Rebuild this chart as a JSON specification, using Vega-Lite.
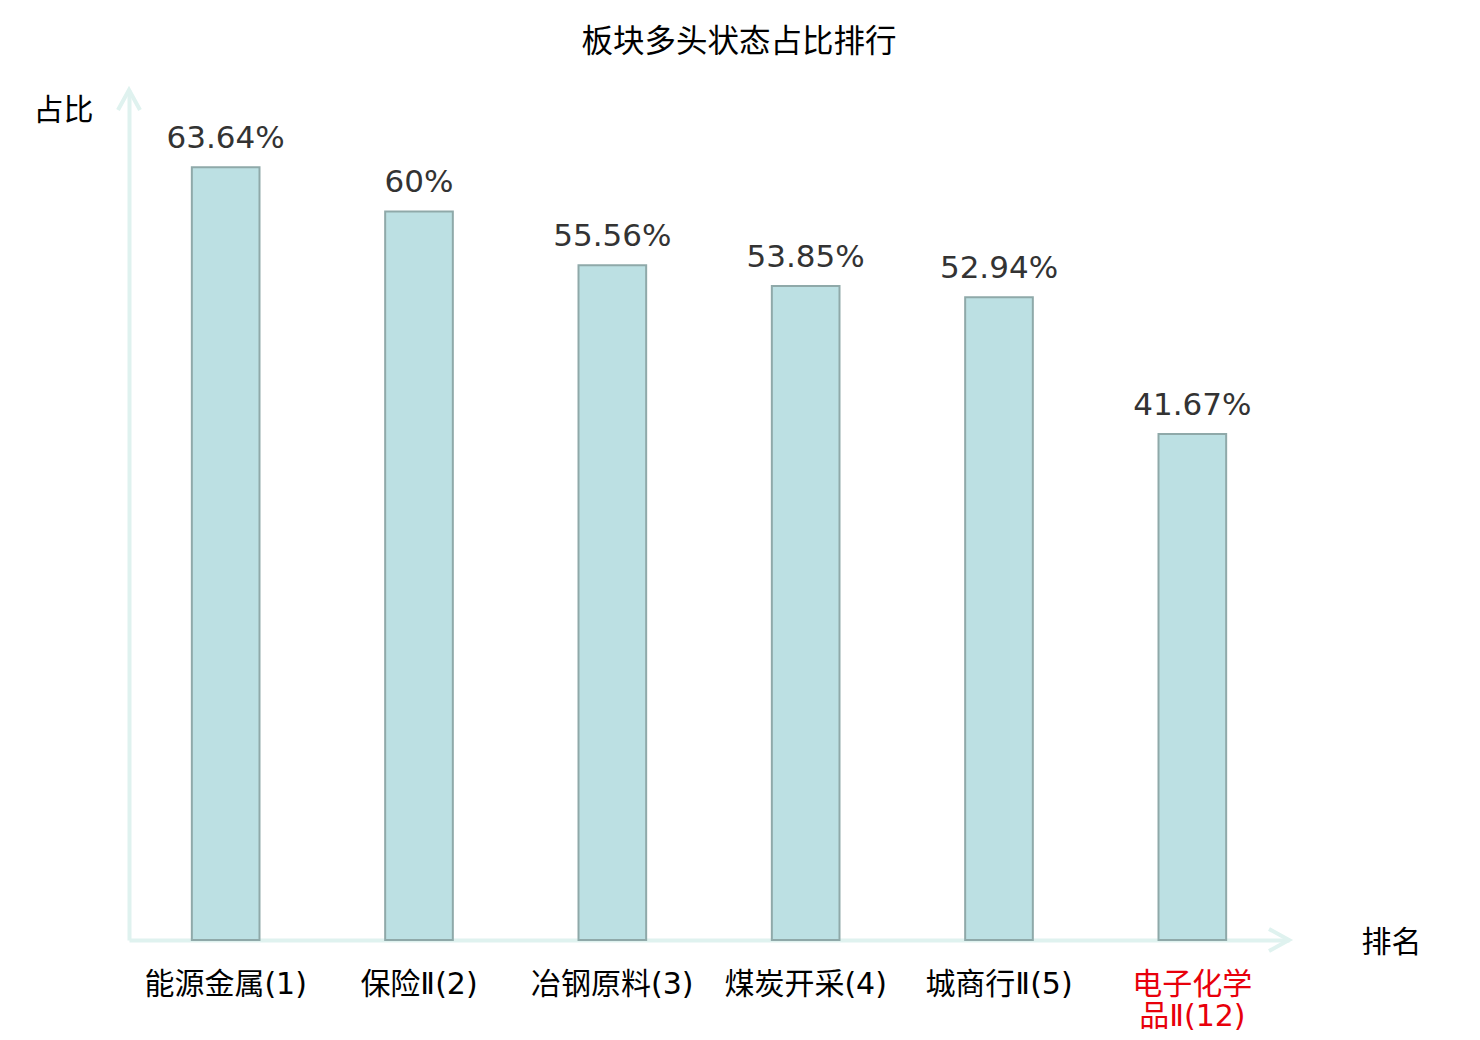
{
  "$schema": "https://vega.github.io/schema/vega-lite/v6.json",
  "autosize": "none",
  "width": 1160,
  "height": 850,
  "padding": {"left": 129, "top": 90, "right": 191, "bottom": 100},
  "background": "white",
  "title": {
    "text": "板块多头状态占比排行",
    "fontSize": 31.5,
    "fontWeight": "normal",
    "font": "Noto Sans CJK SC",
    "color": "#000000",
    "dx": 30,
    "offset": 24
  },
  "config": {
    "view": {"stroke": null},
    "font": "DejaVu Sans, Noto Sans CJK SC"
  },
  "layer": [
    {
      "data": {
        "values": [
          {"name": "能源金属(1)", "ratio": 63.64, "label": "63.64%"},
          {"name": "保险Ⅱ(2)", "ratio": 60, "label": "60%"},
          {"name": "冶钢原料(3)", "ratio": 55.56, "label": "55.56%"},
          {"name": "煤炭开采(4)", "ratio": 53.85, "label": "53.85%"},
          {"name": "城商行Ⅱ(5)", "ratio": 52.94, "label": "52.94%"},
          {"name": "电子化学品Ⅱ(12)", "ratio": 41.67, "label": "41.67%"}
        ]
      },
      "encoding": {
        "x": {
          "field": "name",
          "type": "nominal",
          "sort": null,
          "scale": {"paddingInner": 0.65, "paddingOuter": 0.325},
          "axis": {
            "title": "排名",
            "titleFont": "Noto Sans CJK SC",
            "titleFontSize": 30,
            "titleFontWeight": "normal",
            "titleColor": "#000000",
            "titleAngle": 0,
            "titleAlign": "center",
            "titleBaseline": "middle",
            "titleX": 1262,
            "titleY": 2,
            "labelAngle": 0,
            "labelFont": "DejaVu Sans, Noto Sans CJK SC",
            "labelFontSize": 30,
            "labelBaseline": "top",
            "labelPadding": 29,
            "labelLineHeight": 32,
            "labelOverlap": false,
            "labelExpr": "datum.value == '电子化学品Ⅱ(12)' ? ['电子化学', '品Ⅱ(12)'] : datum.value",
            "labelColor": {
              "condition": {"test": "datum.value == '电子化学品Ⅱ(12)'", "value": "#e8000b"},
              "value": "#000000"
            },
            "ticks": false,
            "domainColor": "#dff2ef",
            "domainWidth": 4
          }
        },
        "y": {
          "field": "ratio",
          "type": "quantitative",
          "scale": {"domain": [0, 70], "nice": false},
          "axis": {
            "title": "占比",
            "titleFont": "Noto Sans CJK SC",
            "titleFontSize": 30,
            "titleFontWeight": "normal",
            "titleColor": "#000000",
            "titleAngle": 0,
            "titleAlign": "center",
            "titleBaseline": "middle",
            "titleX": -66,
            "titleY": 20,
            "labels": false,
            "ticks": false,
            "grid": false,
            "domainColor": "#dff2ef",
            "domainWidth": 4
          }
        }
      },
      "layer": [
        {
          "mark": {"type": "bar", "fill": "#bce0e3", "stroke": "#8fa9a9", "strokeWidth": 2}
        },
        {
          "mark": {
            "type": "text",
            "baseline": "bottom",
            "dy": -12,
            "fontSize": 31,
            "color": "#333333",
            "font": "DejaVu Sans"
          },
          "encoding": {"text": {"field": "label"}}
        }
      ]
    },
    {
      "data": {
        "values": [
          {"ax": 6, "ay": 0, "dir": "right"},
          {"ax": 0, "ay": 70, "dir": "up"}
        ]
      },
      "mark": {"type": "point", "filled": false, "strokeWidth": 4, "opacity": 1, "size": 1600, "color": "#dff2ef"},
      "encoding": {
        "x": {"field": "ax", "type": "quantitative", "scale": {"domain": [0, 6], "nice": false}, "axis": null},
        "y": {"field": "ay", "type": "quantitative"},
        "shape": {
          "field": "dir",
          "type": "nominal",
          "scale": {"domain": ["right", "up"], "range": ["M-1,-0.55L0,0L-1,0.55", "M-0.55,1L0,0L0.55,1"]},
          "legend": null
        }
      }
    }
  ],
  "resolve": {"scale": {"x": "independent"}}
}
